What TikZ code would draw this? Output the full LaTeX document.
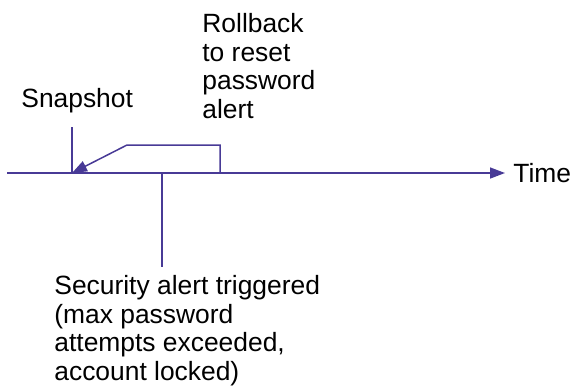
\documentclass[tikz,border=0pt]{standalone}
\usepackage{fontspec}
\setmainfont{Liberation Sans}
\usepackage{xcolor}
\usetikzlibrary{arrows.meta,positioning}
\definecolor{tlblue}{RGB}{72,58,150}
\tikzset{
  tline/.style  = {tlblue, line width=0.75pt},
  tarrow/.style = {tlblue, line width=0.75pt, -{Triangle[length=7.5pt,width=5.5pt]}},
  label/.style  = {inner sep=0pt, align=left, font=\fontsize{13.2}{14.3}\selectfont},
}

\begin{document}
\begin{tikzpicture}[x=0.5pt,y=-0.5pt]
      \useasboundingbox (0,0) rectangle (571,387);
      % points on the time line
      \coordinate (tstart) at (7,173);
      \coordinate (tend) at (505,173);
      \coordinate (snap) at (72,173);
      \coordinate (snaptop) at (72,127);
      \coordinate (alert) at (162,173);
      \coordinate (alertend) at (162,267);
      \coordinate (rbfoot) at (220,173);
      \coordinate (rbbend) at (127,145);

      \node [label,anchor=west] (time) at (513,173) {Time};
      \node [label,anchor=base west] (snaplabel) at (21,107) {Snapshot};
      \node [label,anchor=north west] (rollback) at (202,13) {Rollback\\to reset\\password\\alert};
      \node [label,anchor=north west] (security) at (54,275) {Security alert triggered\\(max password\\attempts exceeded,\\account locked)};

      \draw[tarrow] (tstart) -- (tend);
      \draw[tline] (snaptop) -- (snap);
      \draw[tline] (alert) -- (alertend);
      \draw[tarrow] (rbfoot) |- (rbbend) -- (snap);
\end{tikzpicture}
\end{document}
